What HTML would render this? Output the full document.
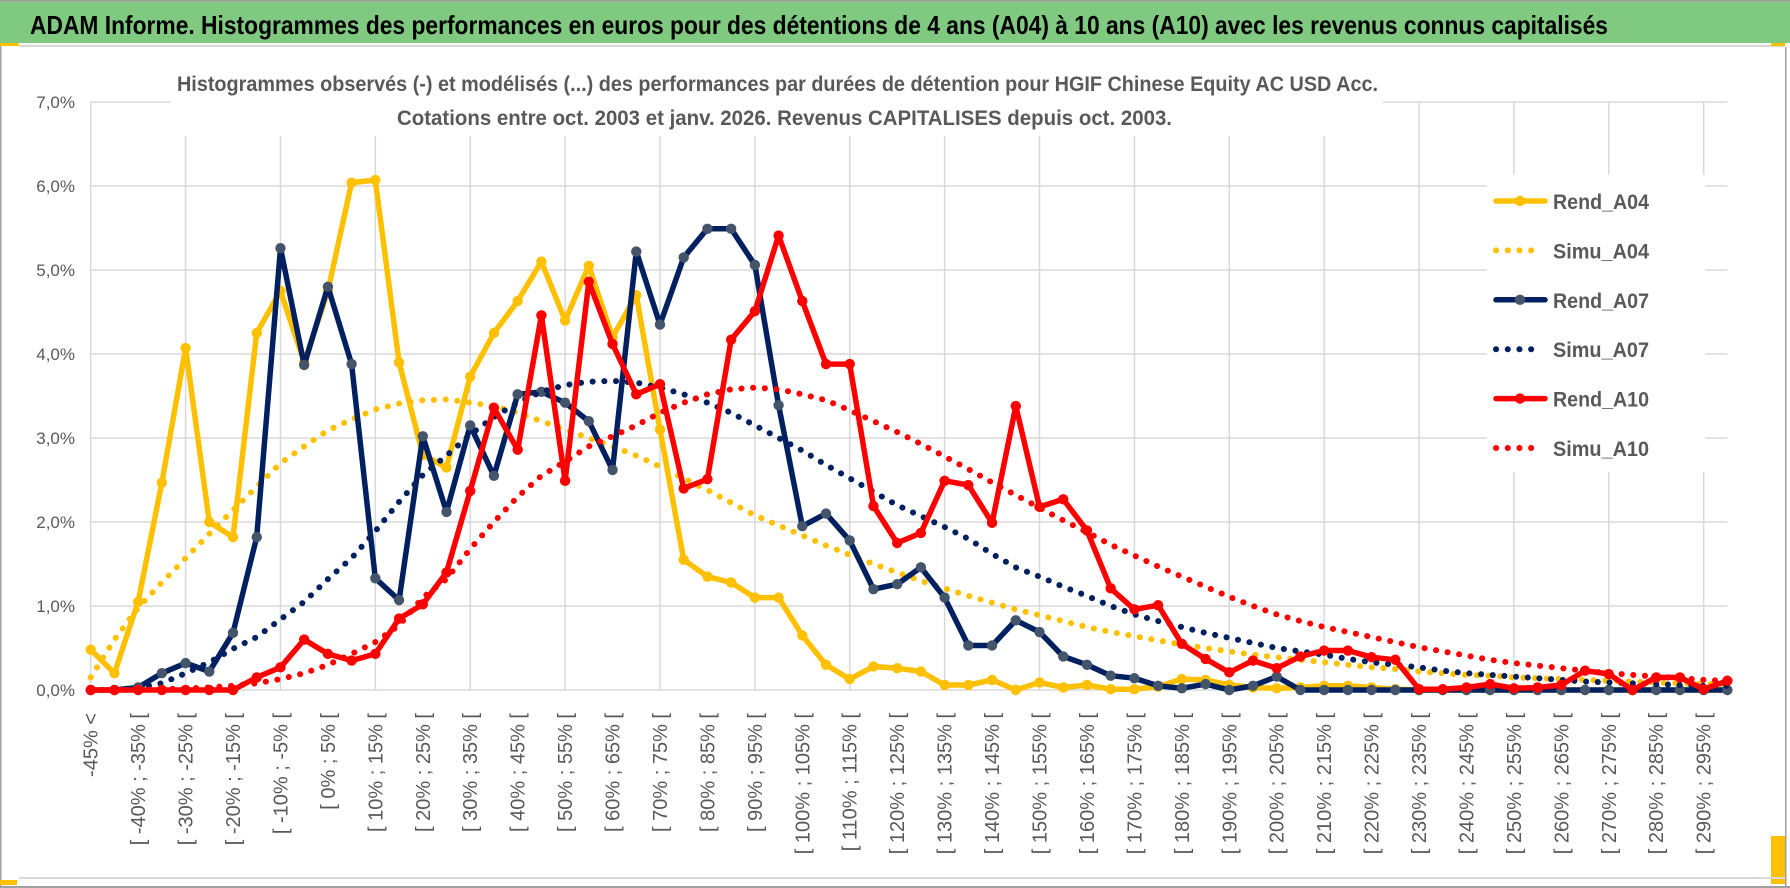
<!DOCTYPE html>
<html><head><meta charset="utf-8"><style>
html,body{margin:0;padding:0;background:#fff;}
svg{display:block;font-family:"Liberation Sans",sans-serif;}
</style></head><body>
<svg id="chart" width="1790" height="888" viewBox="0 0 1790 888" xmlns="http://www.w3.org/2000/svg">
<rect x="0" y="0" width="1790" height="888" fill="#fff"/>
<rect x="0" y="1" width="1790" height="42" fill="#80c980"/>
<rect x="0" y="0" width="1790" height="1.5" fill="#a0a0a0"/>
<rect x="0" y="43" width="19" height="3" fill="#ffc000"/>
<rect x="19" y="45" width="1766" height="2" fill="#d8d8d8"/>
<rect x="0" y="46" width="1.5" height="842" fill="#a0a0a0"/>
<rect x="1785" y="47" width="1.5" height="841" fill="#a0a0a0"/>
<rect x="1771" y="43" width="14" height="3" fill="#ffc000"/>
<rect x="1771" y="836" width="14" height="48" fill="#ffc000"/>
<rect x="19" y="877" width="1766" height="2" fill="#d8d8d8"/>
<rect x="0" y="880" width="17" height="5" fill="#ffc000"/>
<rect x="0" y="886" width="1790" height="2" fill="#a0a0a0"/>
<text x="30" y="34" font-size="26" font-weight="bold" fill="#000" textLength="1578" lengthAdjust="spacingAndGlyphs">ADAM Informe. Histogrammes des performances en euros pour des détentions de 4 ans (A04) à 10 ans (A10) avec les revenus connus capitalisés</text>
<g id="grid"></g>
<rect x="171" y="95" width="1212" height="41" fill="#fff"/>
<text x="177" y="91" font-size="21" font-weight="bold" fill="#595959" textLength="1201" lengthAdjust="spacingAndGlyphs">Histogrammes observés (-) et modélisés (...) des performances par durées de détention pour HGIF Chinese Equity AC USD Acc.</text>
<text x="397" y="125" font-size="21" font-weight="bold" fill="#595959" textLength="775" lengthAdjust="spacingAndGlyphs">Cotations entre oct. 2003 et janv. 2026. Revenus CAPITALISES depuis oct. 2003.</text>
<g id="yaxis"></g>
<g id="xaxis"></g>
<g id="series"></g>
<g id="legend"></g>
</svg>
<script>
const categories = ["-45% <"];
for (let lo = -45; lo < 300; lo += 5) categories.push("[ " + lo + "% ; " + (lo + 5) + "% [");
const yTicks = [0,1,2,3,4,5,6,7];
const yTickLabels = ["0,0%","1,0%","2,0%","3,0%","4,0%","5,0%","6,0%","7,0%"];
const seriesNames = ["Rend_A04","Simu_A04","Rend_A07","Simu_A07","Rend_A10","Simu_A10"];
const rendA04 = [0.48,0.2,1.05,2.47,4.07,2.0,1.82,4.25,4.75,3.9,4.75,6.04,6.07,3.9,2.8,2.65,3.73,4.25,4.63,5.1,4.4,5.05,4.2,4.7,3.1,1.55,1.35,1.28,1.1,1.1,0.65,0.3,0.13,0.28,0.26,0.22,0.06,0.06,0.12,0.0,0.09,0.03,0.06,0.01,0.01,0.04,0.13,0.12,0.06,0.03,0.02,0.03,0.05,0.05,0.03,0.01,0,0,0,0,0,0,0,0,0,0,0,0,0,0];
const simuA04 = [0.15,0.6,0.98,1.28,1.57,1.86,2.14,2.42,2.7,2.9,3.09,3.22,3.34,3.41,3.45,3.46,3.42,3.38,3.3,3.2,3.1,3.0,2.9,2.79,2.66,2.52,2.38,2.23,2.08,1.96,1.84,1.72,1.61,1.5,1.4,1.3,1.21,1.12,1.04,0.96,0.89,0.82,0.75,0.69,0.64,0.59,0.54,0.5,0.46,0.42,0.39,0.36,0.33,0.3,0.27,0.25,0.22,0.2,0.18,0.17,0.15,0.14,0.13,0.12,0.11,0.1,0.09,0.08,0.07,0.07];
const rendA07 = [0,0,0.03,0.2,0.32,0.22,0.68,1.82,5.26,3.87,4.8,3.88,1.33,1.07,3.02,2.12,3.15,2.55,3.52,3.55,3.42,3.2,2.62,5.22,4.35,5.15,5.49,5.49,5.06,3.39,1.95,2.1,1.78,1.2,1.26,1.46,1.1,0.53,0.53,0.83,0.69,0.4,0.3,0.17,0.14,0.05,0.02,0.07,0,0.05,0.16,0,0,0,0,0,0,0,0,0,0,0,0,0,0,0,0,0,0,0];
const simuA07 = [0,0,0.03,0.08,0.2,0.33,0.49,0.63,0.84,1.05,1.32,1.57,1.89,2.24,2.56,2.79,3.04,3.25,3.42,3.55,3.63,3.67,3.68,3.66,3.6,3.52,3.42,3.3,3.15,3.0,2.85,2.68,2.52,2.36,2.2,2.07,1.94,1.8,1.62,1.46,1.35,1.23,1.12,1.0,0.9,0.82,0.75,0.68,0.62,0.56,0.5,0.46,0.42,0.37,0.33,0.3,0.27,0.23,0.2,0.18,0.16,0.14,0.12,0.1,0.09,0.08,0.07,0.06,0.05,0.05];
const rendA10 = [0,0,0,0,0,0,0,0.15,0.27,0.6,0.43,0.35,0.43,0.85,1.02,1.4,2.37,3.36,2.86,4.46,2.49,4.86,4.12,3.52,3.64,2.4,2.51,4.17,4.51,5.41,4.63,3.88,3.88,2.19,1.75,1.87,2.49,2.44,1.99,3.38,2.18,2.27,1.9,1.21,0.96,1.01,0.55,0.37,0.21,0.35,0.26,0.4,0.47,0.47,0.39,0.36,0.01,0.01,0.03,0.07,0.02,0.03,0.06,0.23,0.19,0.0,0.15,0.15,0.01,0.11];
const simuA10 = [0,0,0,0.01,0.02,0.03,0.05,0.08,0.13,0.2,0.3,0.43,0.57,0.77,1.1,1.32,1.68,2.0,2.3,2.55,2.72,2.9,3.02,3.15,3.3,3.42,3.52,3.58,3.6,3.58,3.52,3.45,3.33,3.2,3.07,2.93,2.78,2.63,2.47,2.32,2.17,2.02,1.88,1.73,1.6,1.47,1.35,1.23,1.11,1.0,0.9,0.82,0.75,0.69,0.63,0.57,0.51,0.46,0.41,0.36,0.32,0.29,0.26,0.23,0.2,0.18,0.16,0.14,0.12,0.11];

const NS = "http://www.w3.org/2000/svg";
const X0 = 90.7, DX = 23.72, Y0 = 690, PY = 84;
const xScale = i => X0 + i * DX;
const yScale = v => Y0 - v * PY;
const plotRight = xScale(categories.length - 1);
function mk(tag, attrs, parent) {
  const el = document.createElementNS(NS, tag);
  for (const k in attrs) el.setAttribute(k, attrs[k]);
  parent.appendChild(el);
  return el;
}
const grid = document.getElementById('grid');
yTicks.forEach(t => {
  const l = mk('line', {x1: X0, x2: plotRight, y1: yScale(t), y2: yScale(t), stroke: '#d9d9d9', 'stroke-width': 1.5}, grid);
  
  
});
for (let i = 0; i < categories.length; i += 4) {
  const l = mk('line', {x1: xScale(i), x2: xScale(i), y1: yScale(7), y2: Y0, stroke: '#d9d9d9', 'stroke-width': 1.5}, grid);
  
  
}
const yaxis = document.getElementById('yaxis');
yTicks.forEach((t, k) => {
  const tx = mk('text', {x: 75, y: yScale(t) + 6, 'text-anchor': 'end', 'font-size': 17, fill: '#595959'}, yaxis);
  
  
  tx.textContent = yTickLabels[k];
});
const xaxis = document.getElementById('xaxis');
categories.forEach((c, i) => {
  if (i % 2 !== 0) return;
  const tx = mk('text', {transform: 'translate(' + (xScale(i) + 7) + ',713) rotate(-90)', 'text-anchor': 'end', 'font-size': 20, fill: '#595959'}, xaxis);
  
  
  tx.textContent = c;
});
const styles = [
  {data: rendA04, color: '#ffc000', marker: '#ffc000', dotted: false},
  {data: simuA04, color: '#ffc000', dotted: true},
  {data: rendA07, color: '#002060', marker: '#44546a', dotted: false},
  {data: simuA07, color: '#002060', dotted: true},
  {data: rendA10, color: '#ff0000', marker: '#ff0000', dotted: false},
  {data: simuA10, color: '#ff0000', dotted: true}
];
const sg = document.getElementById('series');
styles.forEach((s, k) => {
  const g = mk('g', {}, sg);
  
  
  const pts = s.data.map((v, i) => xScale(i).toFixed(1) + ',' + yScale(v).toFixed(1)).join(' ');
  const pl = mk('polyline', {points: pts, fill: 'none', stroke: s.color, 'stroke-linejoin': 'round', 'stroke-linecap': 'round'}, g);
  if (s.dotted) {
    pl.setAttribute('stroke-width', 6);
    pl.setAttribute('stroke-dasharray', '0.1 11.6');
  } else {
    pl.setAttribute('stroke-width', 5.5);
  }
  
  
  if (!s.dotted) {
    s.data.forEach((v, i) => {
      const c = mk('circle', {cx: xScale(i), cy: yScale(v), r: 5.2, fill: s.marker}, g);
      
      
    });
  }
});
const lg = document.getElementById('legend');
const lbg = mk('rect', {x: 1487, y: 175, width: 218, height: 297, fill: '#fff'}, lg);


styles.forEach((s, k) => {
  const y = 201 + k * 49.4;
  const g = mk('g', {}, lg);
  
  
  if (s.dotted) {
    mk('line', {x1: 1496, x2: 1542, y1: y, y2: y, stroke: s.color, 'stroke-width': 6, 'stroke-linecap': 'round', 'stroke-dasharray': '0.1 11.6'}, g);
  } else {
    mk('line', {x1: 1496, x2: 1545, y1: y, y2: y, stroke: s.color, 'stroke-width': 5.5, 'stroke-linecap': 'round'}, g);
    mk('circle', {cx: 1520, cy: y, r: 5.2, fill: s.marker}, g);
  }
  const tx = mk('text', {x: 1553, y: y + 8, 'font-size': 21, 'font-weight': 'bold', fill: '#595959', textLength: 96, lengthAdjust: 'spacingAndGlyphs'}, g);
  
  
  tx.textContent = seriesNames[k];
});
</script>
</body></html>
